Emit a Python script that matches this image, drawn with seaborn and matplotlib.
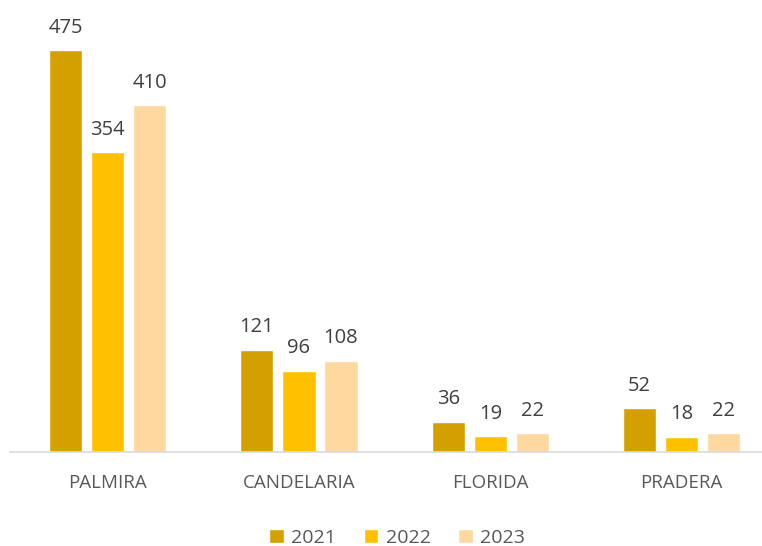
import matplotlib
matplotlib.use("Agg")
import matplotlib.pyplot as plt
import pandas as pd
import seaborn as sns

# Datos por municipio y año
municipios = ["PALMIRA", "CANDELARIA", "FLORIDA", "PRADERA"]
anios = ["2021", "2022", "2023"]
valores_2021 = [475, 121, 36, 52]
valores_2022 = [354, 96, 19, 18]
valores_2023 = [410, 108, 22, 22]
colores = ["#D4A000", "#FFC000", "#FFD8A0"]

df = pd.DataFrame({
    "municipio": municipios * 3,
    "anio": [a for a in anios for _ in municipios],
    "valor": valores_2021 + valores_2022 + valores_2023,
})

sns.set_theme(style="white")
plt.rcParams["font.family"] = ["Open Sans", "DejaVu Sans"]

fig = plt.figure(figsize=(7.62, 5.46), dpi=100)
ax = fig.add_axes([0.013, 0.172, 0.987, 0.775])

sns.barplot(data=df, x="municipio", y="valor", hue="anio",
            palette=colores, width=0.66, gap=0.21, ax=ax,
            saturation=1, legend=True)

for cont in ax.containers:
    ax.bar_label(cont, padding=9, fontsize=14.5, color="#404040")

ax.set_xlim(-0.51, 3.42)
ax.set_ylim(0, 500)
ax.set_xlabel("")
ax.set_ylabel("")
ax.set_yticks([])
ax.tick_params(axis="x", length=0, labelsize=13.5, labelcolor="#595959", pad=16)
for s in ["top", "right", "left"]:
    ax.spines[s].set_visible(False)
ax.spines["bottom"].set_color("#D9D9D9")
ax.spines["bottom"].set_linewidth(1.2)

ax.legend(loc="lower center", bbox_to_anchor=(0.515, -0.265), ncol=3,
          frameon=False, fontsize=14, handlelength=0.75, handleheight=0.75,
          handletextpad=0.4, columnspacing=1.4, labelcolor="#595959")

fig.savefig("out.png", dpi=100)
